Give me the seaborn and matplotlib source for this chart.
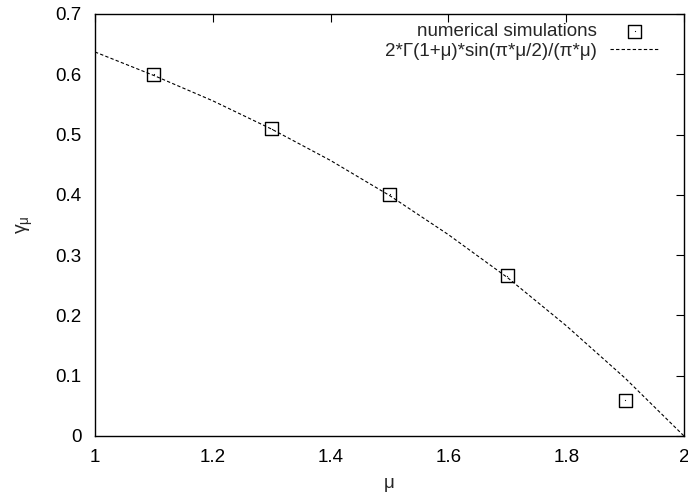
import matplotlib
matplotlib.use("Agg")
import matplotlib.pyplot as plt
from matplotlib.legend_handler import HandlerTuple
import seaborn as sns
import pandas as pd

sns.set_theme(style="white")
plt.rcParams['font.family'] = ['Liberation Sans', 'DejaVu Sans']
plt.rcParams['mathtext.fontset'] = 'custom'
plt.rcParams['mathtext.rm'] = 'Liberation Sans'
plt.rcParams['mathtext.it'] = 'Liberation Sans'

# numerical simulations
sim_mu = [1.1, 1.3, 1.5, 1.7, 1.9]
sim_gamma = [0.600, 0.510, 0.401, 0.266, 0.059]

# theoretical curve
curve_mu = [1.0, 1.1, 1.2, 1.3, 1.4, 1.5, 1.6, 1.7, 1.8, 1.9, 2.0]
curve_gamma = [0.637, 0.598, 0.556, 0.509, 0.457, 0.399, 0.334, 0.263, 0.183, 0.096, 0.0]

x_ticks = [1, 1.2, 1.4, 1.6, 1.8, 2]
x_tick_labels = ["1", "1.2", "1.4", "1.6", "1.8", "2"]
y_ticks = [0, 0.1, 0.2, 0.3, 0.4, 0.5, 0.6, 0.7]
y_tick_labels = ["0", "0.1", "0.2", "0.3", "0.4", "0.5", "0.6", "0.7"]

sim_label = "numerical simulations"
curve_label = "2*\u0393(1+\u03bc)*sin(\u03c0*\u03bc/2)/(\u03c0*\u03bc)"

sim_df = pd.DataFrame({"mu": sim_mu, "gamma": sim_gamma})
curve_df = pd.DataFrame({"mu": curve_mu, "gamma": curve_gamma})

fig = plt.figure(figsize=(6.88, 4.95), dpi=100)
ax = fig.add_axes([95/688, 1-436/495, (684-95)/688, (436-14)/495])

sns.scatterplot(data=sim_df, x="mu", y="gamma", ax=ax, marker="s", s=88,
                facecolor="none", edgecolor="black", linewidth=1.0,
                label=sim_label, zorder=3)
sns.scatterplot(data=sim_df, x="mu", y="gamma", ax=ax, marker=".", s=3,
                color="black", linewidth=0, zorder=4, label="_dot")
sns.lineplot(data=curve_df, x="mu", y="gamma", ax=ax, color="black",
             linestyle=(0, (3, 2)), linewidth=0.8,
             label=curve_label, zorder=2)

ax.set_xlim(1, 2)
ax.set_ylim(0, 0.7)
ax.set_xticks(x_ticks)
ax.set_xticklabels(x_tick_labels)
ax.set_yticks(y_ticks)
ax.set_yticklabels(y_tick_labels)
ax.tick_params(direction="in", length=6, width=0.8, top=True, right=True,
               labelsize=13.5, colors="black", pad=9.5)
for sp in ax.spines.values():
    sp.set_color("black")
    sp.set_linewidth(1.0)

ax.set_xlabel("\u03bc", fontsize=13.5, labelpad=6)
ax.set_ylabel(r"$\gamma_\mu$", fontsize=14, rotation=90, labelpad=15)

sq = ax.collections[0]
dot = ax.collections[1]
line = ax.get_lines()[0]
leg = ax.legend([(sq, dot), line], [sim_label, curve_label],
                handler_map={tuple: HandlerTuple(ndivide=1, pad=0)},
                loc="upper right", bbox_to_anchor=((660-95)/589, (436-23)/422),
                borderaxespad=0, borderpad=0,
                frameon=False, fontsize=13.5,
                markerfirst=False, handlelength=2.67, handletextpad=0.7,
                labelspacing=0.12)
for t in leg.get_texts():
    t.set_ha("right")

fig.savefig("out.png", dpi=100)
